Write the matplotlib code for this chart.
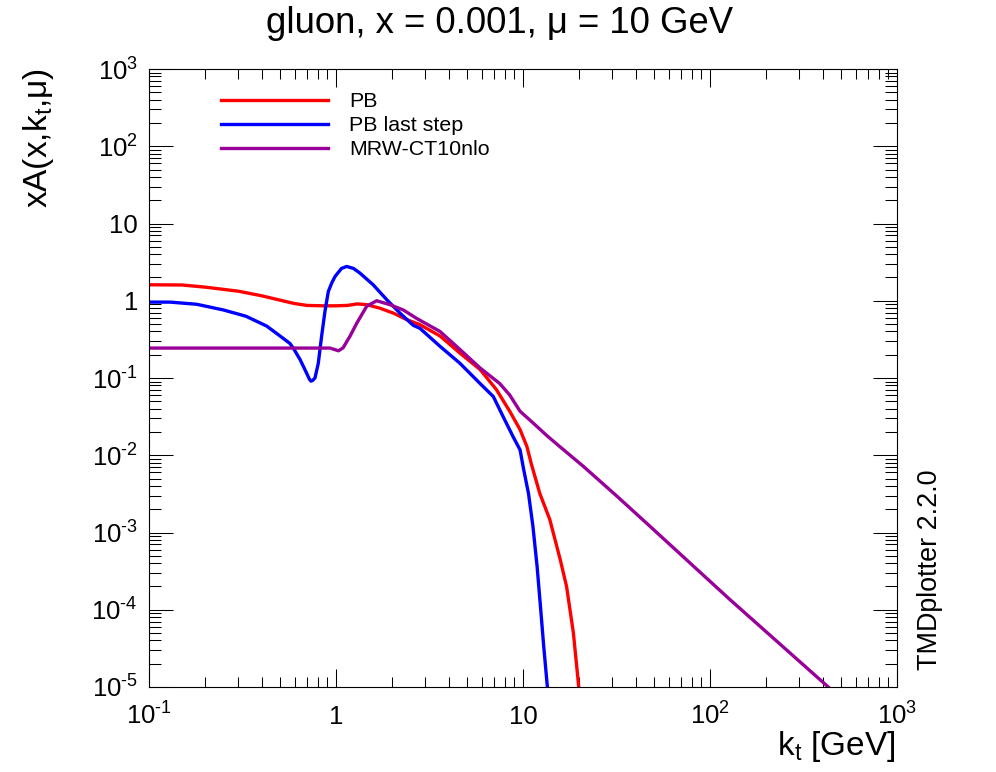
import matplotlib
matplotlib.use("Agg")
import matplotlib.pyplot as plt
from matplotlib.ticker import FixedLocator, FixedFormatter, LogLocator, NullFormatter

plt.rcParams['font.family'] = ['Liberation Sans', 'DejaVu Sans']
plt.rcParams['mathtext.fontset'] = 'custom'
plt.rcParams['mathtext.rm'] = 'Liberation Sans'
plt.rcParams['mathtext.it'] = 'Liberation Sans'
plt.rcParams['mathtext.default'] = 'regular'

# ---- data ----
kt_pb = [0.1, 0.15, 0.2, 0.3, 0.4, 0.5, 0.6, 0.7, 0.85, 1.0, 1.15, 1.3, 1.46,
         1.72, 2.03, 2.39, 2.81, 3.6, 4.6, 5.89, 7.2, 8.5, 9.65, 10.5, 11.1,
         12.3, 13.9, 15.8, 17.1, 18.6, 19.7, 20.4]
xa_pb = [1.61, 1.60, 1.50, 1.33, 1.16, 1.02, 0.92, 0.87, 0.86, 0.86, 0.87, 0.91, 0.89,
         0.80, 0.69, 0.57, 0.49, 0.35, 0.21, 0.129, 0.071, 0.037, 0.0214, 0.0129, 0.0076,
         3.2e-3, 1.48e-3, 4.5e-4, 2.0e-4, 5.0e-5, 1.23e-5, 5e-6]

kt_last = [0.1, 0.13, 0.18, 0.25, 0.33, 0.426, 0.502, 0.567, 0.59, 0.642, 0.697, 0.72,
           0.735, 0.75, 0.772, 0.804, 0.838, 0.873, 0.91, 0.948, 0.988, 1.07, 1.14, 1.24,
           1.34, 1.58, 1.87, 2.2, 2.59, 2.81, 3.6, 4.6, 5.89, 6.94, 7.83, 8.85, 9.65,
           10.05, 10.7, 11.3, 11.9, 12.4, 12.9, 13.5, 13.8]
xa_last = [0.96, 0.96, 0.90, 0.76, 0.63, 0.47, 0.35, 0.28, 0.245, 0.174, 0.115, 0.097,
           0.091, 0.093, 0.10, 0.155, 0.35, 0.73, 1.32, 1.69, 2.06, 2.62, 2.78, 2.62,
           2.29, 1.61, 1.03, 0.69, 0.48, 0.44, 0.257, 0.155, 0.085, 0.0575, 0.0316,
           0.0174, 0.0117, 0.0068, 3.2e-3, 1.2e-3, 3.6e-4, 1.1e-4, 3.4e-5, 1.0e-5, 5e-6]

kt_mrw = [0.1, 0.93, 1.03, 1.09, 1.19, 1.29, 1.46, 1.65, 1.94, 2.29, 2.7, 3.6,
          4.6, 5.89, 7.5, 8.5, 9.65, 11.3, 13.4, 15.4, 21.0, 31.8, 47.8, 128.0, 429.0, 440.0]
xa_mrw = [0.244, 0.244, 0.225, 0.245, 0.35, 0.51, 0.85, 1.0, 0.89, 0.76, 0.59, 0.40,
          0.234, 0.135, 0.085, 0.060, 0.037, 0.0263, 0.018, 0.0135, 7.2e-3, 2.95e-3,
          1.2e-3, 1.35e-4, 1.0e-5, 9.5e-6]

labels = ["PB", "PB last step", "MRW-CT10nlo"]
colors = ["#ff0000", "#0000ff", "#990099"]

xticks = [0.1, 1, 10, 100, 1000]
xticklabels = ["$10^{\u20101}$", "1", "10", "$10^{2}$", "$10^{3}$"]
yticks = [1e-5, 1e-4, 1e-3, 1e-2, 1e-1, 1, 10, 100, 1000]
yticklabels = ["$10^{\u20105}$", "$10^{\u20104}$", "$10^{\u20103}$", "$10^{\u20102}$",
               "$10^{\u20101}$", "1", "10", "$10^{2}$", "$10^{3}$"]

title = "gluon, x = 0.001, μ = 10 GeV"
xlabel = r"k$_{t}$ [GeV]"
ylabel = r"xA(x,k$_{t}$,μ)"
stamp = "TMDplotter 2.2.0"

# ---- figure ----
W, H = 996, 772
fig = plt.figure(figsize=(W / 100, H / 100), dpi=100)
ax = fig.add_axes([149 / W, 85 / H, 748 / W, 618 / H])

for kt, xa, lab, col in zip([kt_pb, kt_last, kt_mrw], [xa_pb, xa_last, xa_mrw], labels, colors):
    ax.plot(kt, xa, color=col, lw=2.4, label=lab, solid_joinstyle='round')

ax.set_xscale('log')
ax.set_yscale('log')
ax.set_xlim(0.1, 1000)
ax.set_ylim(1e-5, 1e3)

ax.xaxis.set_major_locator(FixedLocator(xticks))
ax.xaxis.set_major_formatter(FixedFormatter(xticklabels))
ax.yaxis.set_major_locator(FixedLocator(yticks))
ax.yaxis.set_major_formatter(FixedFormatter(yticklabels))
ax.xaxis.set_minor_locator(LogLocator(base=10, subs=range(2, 10), numticks=20))
ax.yaxis.set_minor_locator(LogLocator(base=10, subs=range(2, 10), numticks=20))
ax.xaxis.set_minor_formatter(NullFormatter())
ax.yaxis.set_minor_formatter(NullFormatter())

for sp in ax.spines.values():
    sp.set_linewidth(0.8)

ax.tick_params(axis='both', which='both', direction='in', top=True, right=True,
               width=0.75, colors='black', labelsize=18.5)
ax.tick_params(axis='x', which='major', length=13, pad=27)
ax.tick_params(axis='x', which='minor', length=7)
ax.tick_params(axis='y', which='major', length=17, pad=8)
ax.tick_params(axis='y', which='minor', length=8.6)
for t in ax.get_xticklabels():
    t.set_verticalalignment('baseline')

leg = ax.legend(loc='upper left', bbox_to_anchor=(221 / W, 1 - 92 / H),
                bbox_transform=fig.transFigure, frameon=False, fontsize=15.4,
                handlelength=5.0, handletextpad=1.0, labelspacing=0.24,
                borderpad=0, borderaxespad=0)

fig.text(0.502, 1 - 33 / H, title, ha='center', va='baseline', fontsize=26.3)
fig.text(39 / W, 1 - 68 / H, ylabel, ha='center', va='top', rotation=90, fontsize=24)
fig.text(896 / W, 1 - 755 / H, xlabel, ha='right', va='baseline', fontsize=24)
fig.text(930 / W, 1 - 670 / H, stamp, ha='center', va='bottom', rotation=90, fontsize=19.4)

fig.savefig("out.png", dpi=100)
